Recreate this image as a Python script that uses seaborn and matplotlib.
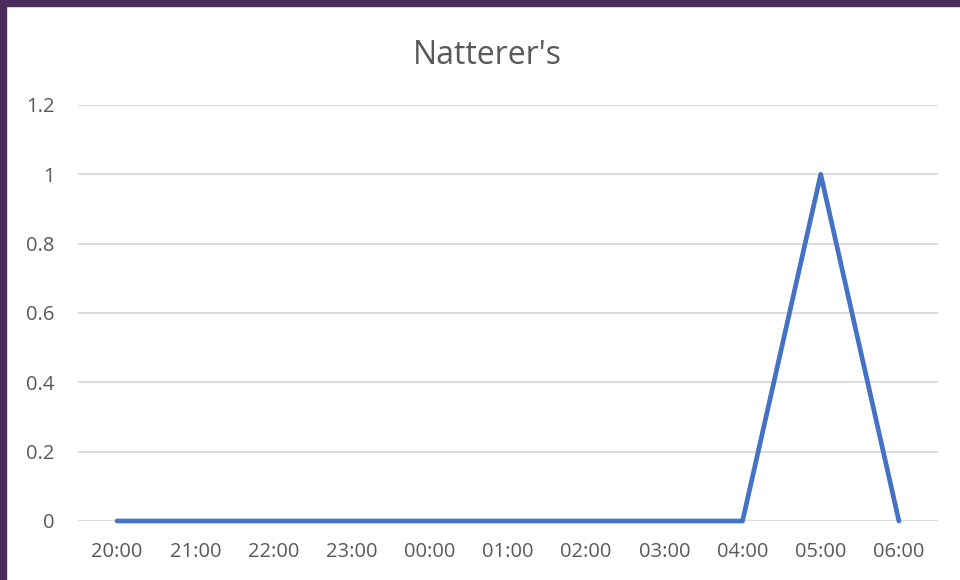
import matplotlib
matplotlib.use("Agg")
import matplotlib.pyplot as plt
import seaborn as sns
import pandas as pd
from matplotlib.patches import Rectangle

hours = ["20:00", "21:00", "22:00", "23:00", "00:00", "01:00",
         "02:00", "03:00", "04:00", "05:00", "06:00"]
counts = [0, 0, 0, 0, 0, 0, 0, 0, 0, 1, 0]

sns.set_style("white")
plt.rcParams['font.family'] = ['Open Sans', 'DejaVu Sans']

df = pd.DataFrame({"pos": range(len(hours)), "count": counts})

fig = plt.figure(figsize=(9.6, 5.8), dpi=100)
fig.patch.set_facecolor("white")
# purple frame on top and left
fig.patches.append(Rectangle((0, 1 - 6 / 580), 1, 6 / 580, transform=fig.transFigure,
                             color="#4B2C5A", zorder=0))
fig.patches.append(Rectangle((0, 0), 6 / 960, 1, transform=fig.transFigure,
                             color="#4B2C5A", zorder=0))

ax = fig.add_axes([78 / 960, 1 - 521 / 580, 860 / 960, 416 / 580])
sns.lineplot(data=df, x="pos", y="count", ax=ax, color="#4472C4",
             linewidth=3.4, solid_capstyle="round", solid_joinstyle="round",
             clip_on=False, zorder=3)

ax.set_xlim(-0.5, len(hours) - 0.5)
ax.set_ylim(0, 1.2)
ax.set_yticks([0, 0.2, 0.4, 0.6, 0.8, 1, 1.2])
ax.set_yticklabels(["0", "0.2", "0.4", "0.6", "0.8", "1", "1.2"])
ax.set_xticks(range(len(hours)))
ax.set_xticklabels(hours)
ax.grid(axis="y", color="#D9D9D9", linewidth=1.3)
ax.set_axisbelow(True)
for s in ax.spines.values():
    s.set_visible(False)
ax.tick_params(axis="both", length=0, labelsize=14.5, labelcolor="#595959")
ax.tick_params(axis="y", pad=17)
ax.tick_params(axis="x", pad=15)
ax.set_xlabel("")
ax.set_ylabel("")
fig.text(487 / 960, 1 - 55 / 580, "Natterer's", fontsize=23, color="#595959",
         ha="center", va="center")

fig.savefig("out.png", dpi=100)
